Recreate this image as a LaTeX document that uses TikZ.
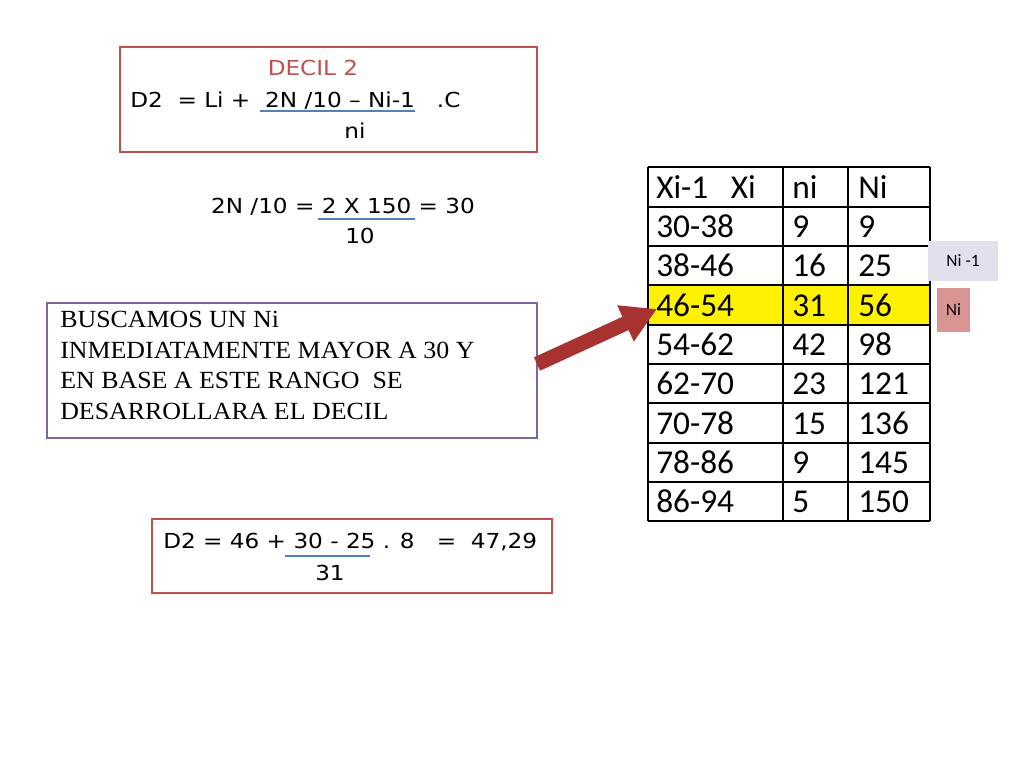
\documentclass[tikz,border=0pt]{standalone}
\usepackage{fontspec}
\setmainfont{Liberation Serif}
\newfontfamily\dv{DejaVu Sans}
\newfontfamily\cb{Carlito}
\usetikzlibrary{arrows.meta}
\definecolor{bred}{HTML}{C0504D}
\definecolor{bpur}{HTML}{8064A2}
\definecolor{ublue}{HTML}{4F81BD}
\definecolor{lav}{HTML}{E4DFEC}
\definecolor{pinkb}{HTML}{D99594}
\definecolor{arr}{HTML}{A8322F}
\begin{document}
\begin{tikzpicture}[x=0.75pt,y=-0.75pt,
 box/.style={draw=bred,line width=1.8pt},
 sans/.style={font=\dv\fontsize{15.5}{18}\selectfont,xscale=1.12,transform shape,inner sep=0pt,anchor=base west},
 cell/.style={font=\cb\fontsize{25}{30}\selectfont,inner sep=0pt,anchor=base west},
 ul/.style={draw=ublue,line width=0.8pt}]
\useasboundingbox (0,0) rectangle (1024,768);
% top box
\draw[box] (120,47) rectangle (537,152);
\node[sans,text=bred,anchor=base] (t1) at (313,75) {DECIL 2};
\node[sans] (t2) at (130,107) {D2\ \ = Li +\ \ 2N /10 – Ni-1\ \ \ .C};
\draw[ul] (260,111) -- (415,111);
\node[sans,anchor=base] (t3) at (355,138) {ni};
% middle formula
\node[sans,anchor=base] (m1) at (343,213) {2N /10 = 2 X 150 = 30};
\draw[ul] (318,219) -- (415,219);
\node[sans,anchor=base] (m2) at (360,243) {10};
% purple box
\draw[draw=bpur,line width=1.8pt] (47,303) rectangle (537,438);
\node[font=\fontsize{18.5}{23}\selectfont,xscale=1.05,transform shape,align=left,anchor=north west,inner sep=0pt] (pb) at (60,311)
 {BUSCAMOS UN Ni\\INMEDIATAMENTE MAYOR A 30 Y\\EN BASE A ESTE RANGO\ \ SE\\DESARROLLARA EL DECIL};
% bottom box
\draw[box] (152,519) rectangle (552,593);
\node[sans] (b1) at (163,548) {D2 = 46 + 30 - 25 . 8\ \ \ =\ \ 47,29};
\draw[ul] (285,556) -- (370,556);
\node[sans,anchor=base] (b2) at (330,580) {31};
% table
\fill[yellow] (648,285) rectangle (930,325);
\foreach \y in {167,207,246,285,325,364,403,443,482,521} \draw[line width=1pt] (648,\y) -- (930,\y);
\foreach \x in {648,783,848,930} \draw[line width=1pt] (\x,167) -- (\x,521);
\foreach \a/\b/\c [count=\i] in {Xi-1\ \ \ Xi/ni/Ni,30-38/9/9,38-46/16/25,46-54/31/56,54-62/42/98,62-70/23/121,70-78/15/136,78-86/9/145,86-94/5/150}{
 \pgfmathsetmacro\yy{167+39.3*\i-8}
 \node[cell] (c\i a) at (656,\yy) {\a};
 \node[cell] (c\i b) at (792,\yy) {\b};
 \node[cell] (c\i c) at (858,\yy) {\c};
}
% side labels
\node[fill=lav,minimum width=70*0.75pt,minimum height=40*0.75pt,font=\cb\fontsize{13}{15}\selectfont] (l1) at (963,261) {Ni -1};
\node[fill=pinkb,minimum width=33*0.75pt,minimum height=44*0.75pt,font=\cb\fontsize{13}{15}\selectfont] (l2) at (953.5,310) {Ni};
% arrow
\coordinate (as) at (537,364);
\coordinate (ae) at (657,309);
\draw[line width=11pt,-{Triangle[length=26pt,width=28pt]},color=arr] (as) -- (ae);
\end{tikzpicture}
\end{document}
